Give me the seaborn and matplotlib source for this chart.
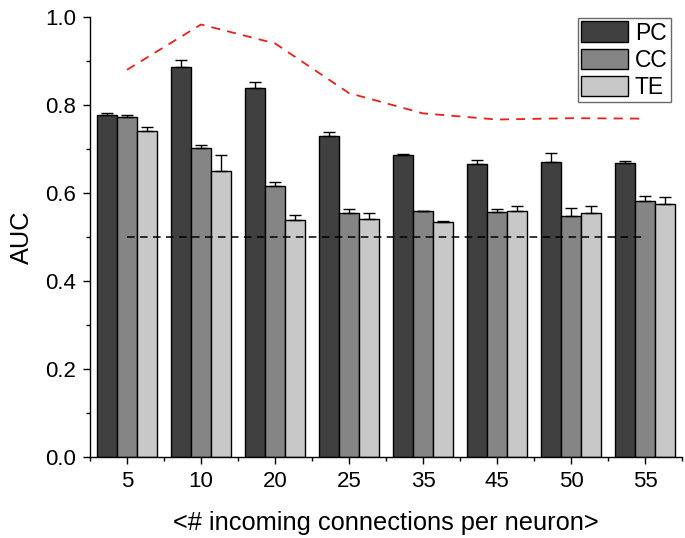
import numpy as np
import pandas as pd
import matplotlib
matplotlib.use("Agg")
import matplotlib.pyplot as plt
from matplotlib.ticker import MultipleLocator, FormatStrFormatter
import seaborn as sns

categories = ["5", "10", "20", "25", "35", "45", "50", "55"]
methods = ["PC", "CC", "TE"]
pc_vals = [0.778, 0.887, 0.838, 0.730, 0.687, 0.666, 0.670, 0.668]
cc_vals = [0.773, 0.703, 0.617, 0.555, 0.558, 0.557, 0.547, 0.582]
te_vals = [0.741, 0.651, 0.539, 0.542, 0.533, 0.560, 0.555, 0.576]
pc_err = [0.003, 0.015, 0.015, 0.009, 0.002, 0.008, 0.022, 0.005]
cc_err = [0.004, 0.006, 0.008, 0.009, 0.002, 0.006, 0.020, 0.011]
te_err = [0.010, 0.035, 0.010, 0.012, 0.003, 0.011, 0.016, 0.014]
red_line = [0.880, 0.983, 0.940, 0.827, 0.781, 0.767, 0.770, 0.769]
chance = 0.5

sns.set_style("ticks")
plt.rcParams["font.family"] = ["Liberation Sans", "DejaVu Sans"]
plt.rcParams["text.color"] = "black"
plt.rcParams["axes.labelcolor"] = "black"

df = pd.DataFrame({
    "cat": categories * 3,
    "method": [m for m in methods for _ in categories],
    "auc": pc_vals + cc_vals + te_vals,
    "err": pc_err + cc_err + te_err,
})

colors = {"PC": "#404040", "CC": "#858585", "TE": "#c8c8c8"}

fig = plt.figure(figsize=(6.85, 5.38), dpi=100)
ax = fig.add_axes([0.1314, 0.1506, 0.8642, 0.8178])

sns.barplot(data=df, x="cat", y="auc", hue="method", order=categories,
            hue_order=methods, palette=colors, width=0.8, errorbar=None,
            edgecolor="black", linewidth=1.0, ax=ax, saturation=1)

# error bars (upper only)
bars = [p for p in ax.patches if p.get_height() > 0]
for i, m in enumerate(methods):
    sub = df[df.method == m]
    for j, c in enumerate(categories):
        b = bars[i * len(categories) + j]
        xc = b.get_x() + b.get_width() / 2
        ax.errorbar(xc, sub.auc.iloc[j], yerr=[[0], [sub.err.iloc[j]]],
                    fmt="none", ecolor="black", elinewidth=1.0, capsize=4,
                    capthick=1.0, zorder=5)

xs = np.arange(len(categories))
ax.plot(xs, red_line, color="#e8201c", linestyle=(0, (5, 4)), linewidth=1.3, zorder=6)
ax.plot([xs[0], xs[-1]], [chance, chance], color="black", linestyle=(0, (5, 3.5)),
        linewidth=1.1, zorder=6)

ax.set_xlim(-0.5, 7.5)
ax.set_ylim(0, 1.0)
ax.yaxis.set_major_locator(MultipleLocator(0.2))
ax.yaxis.set_minor_locator(MultipleLocator(0.1))
ax.yaxis.set_major_formatter(FormatStrFormatter("%.1f"))
ax.set_xticks(xs)
ax.set_xticks(np.arange(-0.5, 7.6, 1.0), minor=True)
ax.tick_params(axis="both", which="major", direction="out", length=5, width=1,
               labelsize=16, colors="black", pad=5)
ax.tick_params(axis="both", which="minor", direction="out", length=3, width=1,
               colors="black")
sns.despine(ax=ax)
for s in ["left", "bottom"]:
    ax.spines[s].set_linewidth(1.0)
    ax.spines[s].set_color("black")

ax.set_xlabel("<# incoming connections per neuron>", fontsize=18.3, labelpad=14,
              color="black")
ax.set_ylabel("AUC", fontsize=18.3, labelpad=8, color="black")

leg = ax.legend(loc="upper right", bbox_to_anchor=(671 / 685, 1 - 18 / 538),
                bbox_transform=fig.transFigure, fontsize=16.5,
                frameon=True, fancybox=False, edgecolor="#444444",
                handlelength=2.05, handleheight=1.0, handletextpad=0.3,
                labelspacing=0.18, borderpad=0.15, borderaxespad=0.0, title=None)
leg.get_frame().set_linewidth(1.0)
for t in leg.get_texts():
    t.set_color("black")

fig.savefig("out.png", dpi=100)
